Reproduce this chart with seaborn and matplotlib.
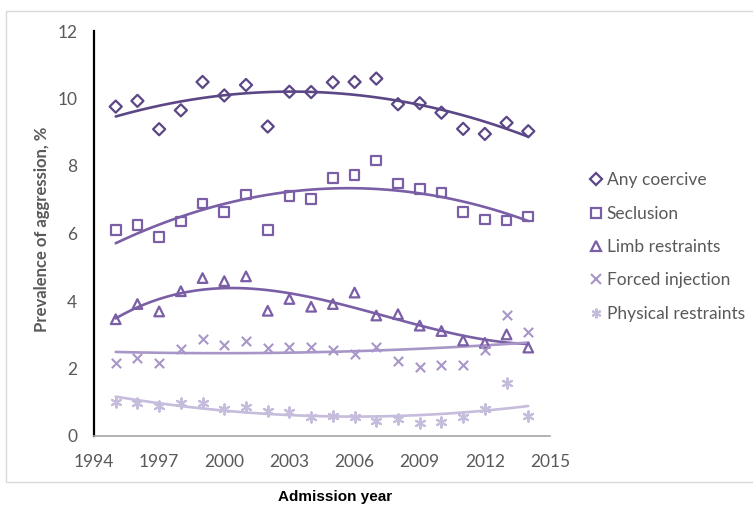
import matplotlib
matplotlib.use("Agg")
import matplotlib.pyplot as plt
from matplotlib.lines import Line2D
from matplotlib.patches import Rectangle
import pandas as pd
import seaborn as sns

years = list(range(1995, 2015))

any_coercive = [9.76, 9.93, 9.09, 9.65, 10.49, 10.09, 10.40, 9.17, 10.20, 10.19,
                10.48, 10.49, 10.59, 9.83, 9.86, 9.58, 9.10, 8.95, 9.28, 9.03]
seclusion = [6.10, 6.25, 5.90, 6.35, 6.89, 6.63, 7.16, 6.10, 7.11, 7.02,
             7.65, 7.73, 8.16, 7.48, 7.32, 7.21, 6.63, 6.41, 6.39, 6.50]
limb_restraints = [3.46, 3.91, 3.69, 4.29, 4.68, 4.59, 4.73, 3.71, 4.06, 3.83,
                   3.91, 4.25, 3.57, 3.61, 3.27, 3.11, 2.83, 2.76, 3.01, 2.62]
forced_injection = [2.15, 2.32, 2.17, 2.59, 2.88, 2.70, 2.81, 2.62, 2.63, 2.63,
                    2.55, 2.42, 2.63, 2.23, 2.05, 2.09, 2.11, 2.55, 3.60, 3.07]
physical_restraints = [1.01, 0.99, 0.90, 0.97, 0.99, 0.81, 0.87, 0.75, 0.70, 0.57,
                       0.60, 0.55, 0.45, 0.50, 0.39, 0.41, 0.57, 0.80, 1.56, 0.60]

series_names = ["Any coercive", "Seclusion", "Limb restraints",
                "Forced injection", "Physical restraints"]
series_values = [any_coercive, seclusion, limb_restraints,
                 forced_injection, physical_restraints]
x_ticks = [1994, 1997, 2000, 2003, 2006, 2009, 2012, 2015]
y_ticks = [0, 2, 4, 6, 8, 10, 12]

ASTERISK = (6, 2, 0)

# marker, marker size, colour, trendline order, hollow?
styles = {
    "Any coercive": ("D", 38, "#5c4786", 2, True),
    "Seclusion": ("s", 48, "#7a5ea6", 2, True),
    "Limb restraints": ("^", 48, "#7a5ea6", 3, True),
    "Forced injection": ("x", 45, "#a896c8", 2, False),
    "Physical restraints": (ASTERISK, 55, "#c6bcdc", 2, False),
}

sns.set_theme(style="white")
plt.rcParams["font.family"] = ["Lato", "DejaVu Sans"]

fig = plt.figure(figsize=(7.53, 5.15), dpi=100)
fig.patches.append(Rectangle((6 / 753, 1 - 482 / 515), 1.0, (482 - 11) / 515,
                             transform=fig.transFigure, fill=False,
                             edgecolor="#d9d9d9", linewidth=1.0))
ax = fig.add_axes([94 / 753, 1 - 436 / 515, (550 - 94) / 753, (436 - 31) / 515])

handles = []
for name, vals in zip(series_names, series_values):
    marker, size, col, order, hollow = styles[name]
    df = pd.DataFrame({"year": years, "value": vals})
    # polynomial trendline, like the Excel original
    sns.regplot(data=df, x="year", y="value", order=order, ci=None, scatter=False,
                truncate=True, ax=ax, line_kws={"color": col, "linewidth": 1.9})
    if hollow:
        sns.scatterplot(data=df, x="year", y="value", marker=marker, s=size,
                        facecolor="none", edgecolor=col, linewidth=1.6, ax=ax, zorder=3)
        handles.append(Line2D([], [], linestyle="none", marker=marker, markersize=6.5,
                              markerfacecolor="none", markeredgecolor=col,
                              markeredgewidth=1.6))
    else:
        sns.scatterplot(data=df, x="year", y="value", marker=marker, s=size,
                        color=col, linewidth=1.5, ax=ax, zorder=3)
        handles.append(Line2D([], [], linestyle="none", marker=marker, markersize=7,
                              color=col, markeredgewidth=1.5))

ax.set_xlim(1994, 2015)
ax.set_ylim(0, 12)
ax.set_xticks(x_ticks)
ax.set_yticks(y_ticks)
ax.set_xlabel("")
ax.set_ylabel("")
ax.tick_params(axis="both", length=0, labelsize=12.5, labelcolor="#595959")
ax.tick_params(axis="x", pad=13)
ax.tick_params(axis="y", pad=12)
for side in ["top", "right"]:
    ax.spines[side].set_visible(False)
ax.spines["left"].set_color("black")
ax.spines["left"].set_linewidth(1.6)
ax.spines["bottom"].set_color("#a6a6a6")
ax.spines["bottom"].set_linewidth(1.2)

fig.text(42 / 753, 1 - 229 / 515, "Prevalence of aggression, %", rotation=90,
         ha="center", va="center", fontsize=12, fontweight="bold", color="#595959")
fig.text(335 / 753, 1 - 497 / 515, "Admission year", ha="center", va="center",
         fontsize=11, fontweight="bold", color="black", family="Liberation Sans")

fig.legend(handles, series_names, loc="center left",
           bbox_to_anchor=(584 / 753, 1 - 247 / 515), frameon=False,
           fontsize=12.5, labelcolor="#595959", handlelength=0.6, handletextpad=0.3,
           labelspacing=1.0, borderaxespad=0)

fig.savefig("out.png", dpi=100)
